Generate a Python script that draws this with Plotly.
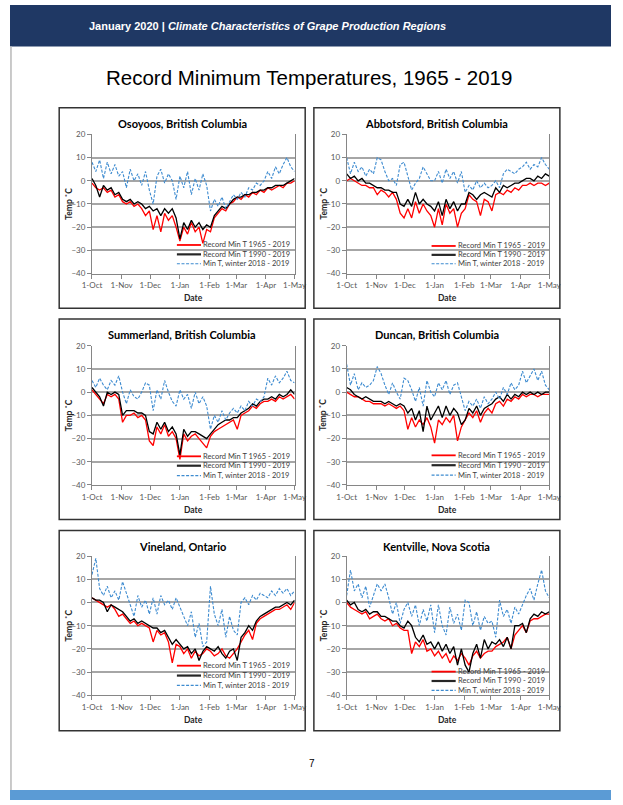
import plotly.graph_objects as go
import pandas as pd

# ---------------- data ----------------
DAYS = list(range(0, 213, 4))  # days after 1 Oct 2018 (sampled every 4 days)
MONTH_TICKS = ["2018-10-01", "2018-11-01", "2018-12-01", "2019-01-01",
               "2019-02-01", "2019-03-01", "2019-04-01", "2019-05-01"]
MONTH_LABELS = ["1-Oct", "1-Nov", "1-Dec", "1-Jan", "1-Feb", "1-Mar", "1-Apr", "1-May"]
Y_TICKS = [-40, -30, -20, -10, 0, 10, 20]
SITES = ["Osoyoos, British Columbia", "Abbotsford, British Columbia",
         "Summerland, British Columbia", "Duncan, British Columbia",
         "Vineland, Ontario", "Kentville, Nova Scotia"]
SERIES = ["Record Min T 1965 - 2019", "Record Min T 1990 - 2019", "Min T, winter 2018 - 2019"]

osoyoos_1965 = [-1, -3, -4, -3, -5, -4, -7, -6,
                -9, -10, -9, -11, -10, -12, -15, -13,
                -21, -15, -22, -14, -17, -15, -20,
                -26, -20, -23, -18, -22, -20, -27, -21,
                -22, -16, -14, -12, -13, -10, -9,
                -7, -8, -6, -7, -5, -6, -4, -5,
                -3, -4, -3, -2, -3, -1, -1, 0]
osoyoos_1990 = [1, -2, -7, -2, -4, -3, -6, -5,
                -8, -9, -8, -10, -9, -10, -12, -11,
                -13, -12, -15, -12, -14, -12, -16,
                -25, -18, -21, -17, -20, -18, -21, -19,
                -20, -15, -13, -11, -12, -10, -8,
                -7, -7, -6, -6, -5, -5, -4, -4,
                -3, -3, -2, -2, -2, -1, 0, 1]
osoyoos_2019 = [8, 4, 9, 1, 8, 3, 7, 2,
                4, -3, 5, 0, 3, -2, 4, -4,
                -10, 2, 5, -1, 3, 0, -8,
                2, -3, 4, -6, 1, -4, 3, -2,
                -13, -8, -11, -7, -12, -9, -6,
                -8, -5, -7, -3, -4, -1, -2, 0,
                4, 1, 6, 3, 7, 10, 6, 4]

abbotsford_1965 = [0, 1, 0, -1, -2, -2, -3, -3,
                   -6, -4, -5, -7, -5, -8, -14, -16,
                   -12, -16, -9, -14, -10, -13, -15,
                   -20, -12, -19, -10, -14, -12, -20, -14,
                   -12, -6, -8, -9, -15, -8, -9,
                   -13, -6, -5, -6, -4, -5, -3, -4,
                   -2, -2, -1, -2, -1, -1, -2, -1]
abbotsford_1990 = [3, 1, 2, 0, 1, -1, -1, -2,
                   -3, -3, -4, -4, -5, -5, -10, -11,
                   -8, -11, -5, -10, -8, -10, -11,
                   -13, -9, -15, -8, -12, -9, -13, -10,
                   -10, -5, -6, -8, -6, -5, -6,
                   -7, -3, -5, -2, -3, -2, -1, -1,
                   0, 1, 1, 0, 2, 1, 3, 2]
abbotsford_2019 = [10, 3, 8, 4, 6, 2, 5, 3,
                   10, 9, 4, 0, 1, -2, 7, 8,
                   2, -4, -1, 1, 6, 3, 0,
                   0, 4, -1, 5, 1, 4, -1, 4,
                   -5, -2, -4, 0, -3, -1, -3,
                   -2, 0, -3, 3, 5, 4, 3, 5,
                   6, 8, 5, 7, 6, 10, 7, 5]

summerland_1965 = [1, -1, -3, -5, -1, -2, -1, -3,
                   -13, -10, -10, -9, -11, -10, -12, -21,
                   -23, -15, -18, -14, -19, -17, -20,
                   -29, -18, -21, -19, -18, -20, -22, -24,
                   -19, -17, -16, -15, -14, -13, -12,
                   -16, -10, -9, -8, -6, -7, -5, -4,
                   -4, -3, -4, -2, -3, -2, -1, -3]
summerland_1990 = [2, 0, -2, -6, 0, -1, 0, -1,
                   -10, -8, -8, -8, -9, -9, -10, -17,
                   -18, -13, -16, -13, -17, -15, -18,
                   -27, -16, -19, -17, -17, -18, -19, -20,
                   -18, -16, -14, -13, -12, -12, -11,
                   -11, -9, -8, -7, -5, -6, -4, -3,
                   -3, -2, -3, -1, -2, -1, 1, -1]
summerland_2019 = [5, 2, 6, 3, 1, 5, 3, 7,
                   0, -5, 1, -2, -3, 0, 4, 3,
                   -8, 1, -3, 5, 0, -4, -6,
                   1, -3, -1, -7, 0, -5, -2, -6,
                   -16, -10, -13, -8, -12, -9, -7,
                   -9, -6, -8, -4, -6, -3, -4, -2,
                   6, 3, 7, 4, 6, 9, 5, 4]

duncan_1965 = [0, -1, -2, -2, -3, -4, -4, -5,
               -5, -5, -6, -5, -6, -7, -6, -8,
               -16, -11, -15, -12, -14, -11, -15,
               -22, -12, -14, -11, -13, -10, -21, -15,
               -12, -9, -11, -8, -13, -9, -7,
               -9, -5, -4, -6, -3, -4, -2, -3,
               -1, -2, -1, -1, -2, -1, -1, -1]
duncan_1990 = [2, 1, -1, -2, -3, -2, -3, -4,
               -4, -4, -5, -4, -5, -6, -5, -6,
               -9, -7, -12, -8, -17, -6, -12,
               -9, -6, -11, -6, -10, -7, -9, -14,
               -12, -7, -9, -6, -10, -7, -6,
               -5, -3, -2, -4, -1, -3, -1, -2,
               0, -1, 0, -1, 0, -1, 0, 0]
duncan_2019 = [12, 3, 8, 1, 4, 2, 3, 5,
               11, 8, 3, -1, 4, 0, -3, 6,
               5, 1, -4, 2, -6, 5, 0,
               -2, 4, 1, 5, -1, 3, 4, -2,
               -8, -4, -6, -3, -7, -2, -5,
               -3, 0, -3, 2, -1, 4, 1, 3,
               9, 4, 7, 10, 5, 9, 3, 1]

vineland_1965 = [2, 1, 0, -1, -2, -1, -3, -6,
                 -5, -7, -9, -8, -10, -9, -10, -11,
                 -17, -12, -14, -13, -17, -26, -18,
                 -19, -22, -20, -24, -21, -23, -22, -20,
                 -21, -23, -22, -20, -23, -24, -22,
                 -20, -17, -14, -12, -16, -9, -7, -6,
                 -5, -4, -3, -3, -2, -1, -3, 0]
vineland_1990 = [2, 1, 1, 0, -4, -1, -2, -3,
                 -4, -6, -8, -7, -9, -8, -9, -10,
                 -11, -11, -13, -12, -15, -18, -16,
                 -18, -20, -19, -22, -20, -25, -21, -19,
                 -20, -21, -19, -22, -24, -21, -20,
                 -25, -15, -13, -10, -12, -8, -6, -5,
                 -4, -3, -2, -2, -1, 0, -1, 1]
vineland_2019 = [12, 19, 6, 3, 7, 2, 5, 1,
                 9, 4, 0, -6, 3, -2, 1, -5,
                 2, -5, 3, -1, 1, -3, 2,
                 -2, -6, -10, -4, -15, -9, -19, -17,
                 7, -5, -10, -3, -15, -6, -12,
                 -14, 0, 2, -1, 3, 1, 4, 3,
                 2, 5, 3, 6, 4, 6, 3, 5]

kentville_1965 = [0, -2, -3, -4, -5, -4, -7, -6,
                  -5, -7, -8, -7, -10, -9, -11, -12,
                  -12, -22, -17, -19, -16, -21, -20,
                  -23, -21, -24, -22, -26, -23, -25, -22,
                  -24, -27, -23, -21, -24, -22, -21,
                  -21, -19, -18, -17, -15, -20, -14, -12,
                  -10, -13, -8, -7, -7, -6, -5, -5]
kentville_1990 = [1, -1, 0, -3, -4, -3, -5, -4,
                  -4, -6, -6, -7, -8, -8, -10, -11,
                  -8, -10, -15, -17, -14, -18, -17,
                  -20, -17, -21, -18, -22, -19, -27, -20,
                  -27, -30, -22, -18, -24, -16, -20,
                  -17, -18, -16, -19, -15, -20, -10, -10,
                  -9, -13, -7, -5, -6, -4, -5, -4]
kentville_2019 = [3, 14, 5, 8, 2, 7, -2, 3,
                  8, 5, 8, 2, -5, 0, -9, -3,
                  0, -6, -1, -10, -3, -8, -1,
                  -13, -1, -10, -14, -2, -9, -5, -12,
                  1, 0, -10, -4, -12, -6, -9,
                  -8, -15, 1, -6, -3, -9, -2, -5,
                  -1, 3, 6, 1, 8, 14, 5, 2]

SITE_SERIES = [
    (osoyoos_1965, osoyoos_1990, osoyoos_2019),
    (abbotsford_1965, abbotsford_1990, abbotsford_2019),
    (summerland_1965, summerland_1990, summerland_2019),
    (duncan_1965, duncan_1990, duncan_2019),
    (vineland_1965, vineland_1990, vineland_2019),
    (kentville_1965, kentville_1990, kentville_2019),
]

# ---------------- layout / style ----------------
W, H = 623, 805
def px(x):
    return x / W
def py(y):
    return 1 - y / H

# plot area (left, right, top, bottom) and panel box (x0, y0, x1, y1), in page pixels
PLOT_AREAS = [(85, 295, 131, 272), (349, 559, 131, 272),
              (85, 295, 345, 486), (349, 559, 345, 486),
              (85, 295, 558, 699), (349, 559, 558, 699)]
BOXES = [(51, 104, 306, 307), (315, 104, 570, 307),
         (51, 318, 306, 521), (315, 318, 570, 521),
         (51, 532, 306, 735), (315, 532, 570, 735)]
LEGEND_OFFS = [(29, 19.5, 10), (28, 19, 10), (29, 19.5, 9.5),
               (30, 20, 10), (30, 20, 10), (24, 14.5, 5)]
COLORS = ["#ff0000", "#000000", "#3d8bd0"]
WIDTHS = [1.3, 1.3, 1.1]
DASHES = ["solid", "solid", "3px,1.6px"]
LEG_COLORS = ["#ff0000", "#262626", "#3d8bd0"]
LEG_WIDTHS = [1.8, 2.2, 1.2]

dates = pd.Timestamp("2018-10-01") + pd.to_timedelta(DAYS, unit="D")

fig = go.Figure()
shapes = []
annotations = []

TICK_FONT = dict(family="Lato, Open Sans, sans-serif", size=8, color="#595959")

for i, (site, series) in enumerate(zip(SITES, SITE_SERIES)):
    n = i + 1
    xa = "x" if n == 1 else f"x{n}"
    ya = "y" if n == 1 else f"y{n}"
    L, R, T, B = PLOT_AREAS[i]
    for k in range(3):
        fig.add_trace(go.Scatter(
            x=dates, y=series[k], mode="lines", name=SERIES[k],
            line=dict(color=COLORS[k], width=WIDTHS[k], dash=DASHES[k]),
            xaxis=xa, yaxis=ya, showlegend=False, hoverinfo="skip"))
    xkey = "xaxis" if n == 1 else f"xaxis{n}"
    ykey = "yaxis" if n == 1 else f"yaxis{n}"
    fig.update_layout({
        xkey: dict(domain=[px(L), px(R)], anchor=ya, type="date",
                   range=[MONTH_TICKS[0], MONTH_TICKS[-1]],
                   tickvals=MONTH_TICKS, ticktext=MONTH_LABELS,
                   showgrid=False, showline=True, linecolor="#868686", linewidth=1,
                   ticks="outside", ticklen=4, tickcolor="#868686",
                   tickfont=TICK_FONT, zeroline=False, fixedrange=True),
        ykey: dict(domain=[py(B), py(T)], anchor=xa, range=[-40, 20],
                   tickvals=Y_TICKS, showgrid=True, gridcolor="#a6a6a6", gridwidth=1.5,
                   showline=True, linecolor="#868686", linewidth=1, mirror=True,
                   ticks="outside", ticklen=4, tickcolor="#868686",
                   tickfont=TICK_FONT, zeroline=False, fixedrange=True),
    })
    bx0, by0, bx1, by1 = BOXES[i]
    shapes.append(dict(type="rect", xref="paper", yref="paper",
                       x0=px(bx0), x1=px(bx1), y0=py(by1), y1=py(by0),
                       line=dict(color="#333333", width=1.5)))
    # panel title
    annotations.append(dict(text=f"<b>{site}</b>", xref="paper", yref="paper",
                            x=px((bx0 + bx1) / 2), y=py(by0 + 16), showarrow=False,
                            xanchor="center", yanchor="middle",
                            font=dict(family="Lato, Open Sans, sans-serif", size=11, color="#000000")))
    # axis titles
    annotations.append(dict(text="<b>Temp ˚C</b>", xref="paper", yref="paper",
                            x=px(bx0 + 10), y=py((T + B) / 2), textangle=-90, showarrow=False,
                            xanchor="center", yanchor="middle",
                            font=dict(family="Lato, Open Sans, sans-serif", size=8.5, color="#262626")))
    annotations.append(dict(text="<b>Date</b>", xref="paper", yref="paper",
                            x=px((L + R) / 2), y=py(B + 25), showarrow=False,
                            xanchor="center", yanchor="middle",
                            font=dict(family="Lato, Open Sans, sans-serif", size=8.5, color="#262626")))
    # manual legend
    for k in range(3):
        yy = B - LEGEND_OFFS[i][k]
        shapes.append(dict(type="line", xref="paper", yref="paper",
                           x0=px(L + 88), x1=px(L + 113), y0=py(yy), y1=py(yy),
                           line=dict(color=LEG_COLORS[k], width=LEG_WIDTHS[k],
                                     dash=DASHES[k])))
        annotations.append(dict(text=SERIES[k], xref="paper", yref="paper",
                                x=px(L + 113), y=py(yy), showarrow=False,
                                xanchor="left", yanchor="middle",
                                font=dict(family="Lato, Open Sans, sans-serif", size=7.5, color="#404040")))

# page furniture
shapes.append(dict(type="rect", xref="paper", yref="paper", x0=0, x1=1,
                   y0=py(42), y1=1, fillcolor="#1f3864", line=dict(width=0), layer="below"))
shapes.append(dict(type="rect", xref="paper", yref="paper", x0=0, x1=1,
                   y0=0, y1=py(795), fillcolor="#5b9bd5", line=dict(width=0), layer="below"))
shapes.append(dict(type="rect", xref="paper", yref="paper", x0=0, x1=px(2),
                   y0=py(795), y1=py(42), fillcolor="#c8c8c8", line=dict(width=0), layer="below"))

annotations.append(dict(
    text="<b>January 2020 | </b><b><i>Climate Characteristics of Grape Production Regions</i></b>",
    xref="paper", yref="paper", x=px(80), y=py(21), showarrow=False,
    xanchor="left", yanchor="middle",
    font=dict(family="Liberation Sans, Arial, sans-serif", size=11, color="#ffffff")))
annotations.append(dict(
    text="Record Minimum Temperatures, 1965 - 2019",
    xref="paper", yref="paper", x=px(310), y=py(73), showarrow=False,
    xanchor="center", yanchor="middle",
    font=dict(family="Liberation Sans, Arial, sans-serif", size=20.5, color="#000000")))
annotations.append(dict(
    text="7", xref="paper", yref="paper", x=px(313), y=py(768), showarrow=False,
    xanchor="center", yanchor="middle",
    font=dict(family="Liberation Sans, Arial, sans-serif", size=10, color="#000000")))

fig.update_layout(width=W, height=H, margin=dict(l=0, r=0, t=0, b=0),
                  paper_bgcolor="#ffffff", plot_bgcolor="#ffffff",
                  showlegend=False, shapes=shapes, annotations=annotations)

fig.write_html("out.html", config={"displayModeBar": False},
               post_script="document.body.style.margin='0';document.body.style.overflow='hidden';")
